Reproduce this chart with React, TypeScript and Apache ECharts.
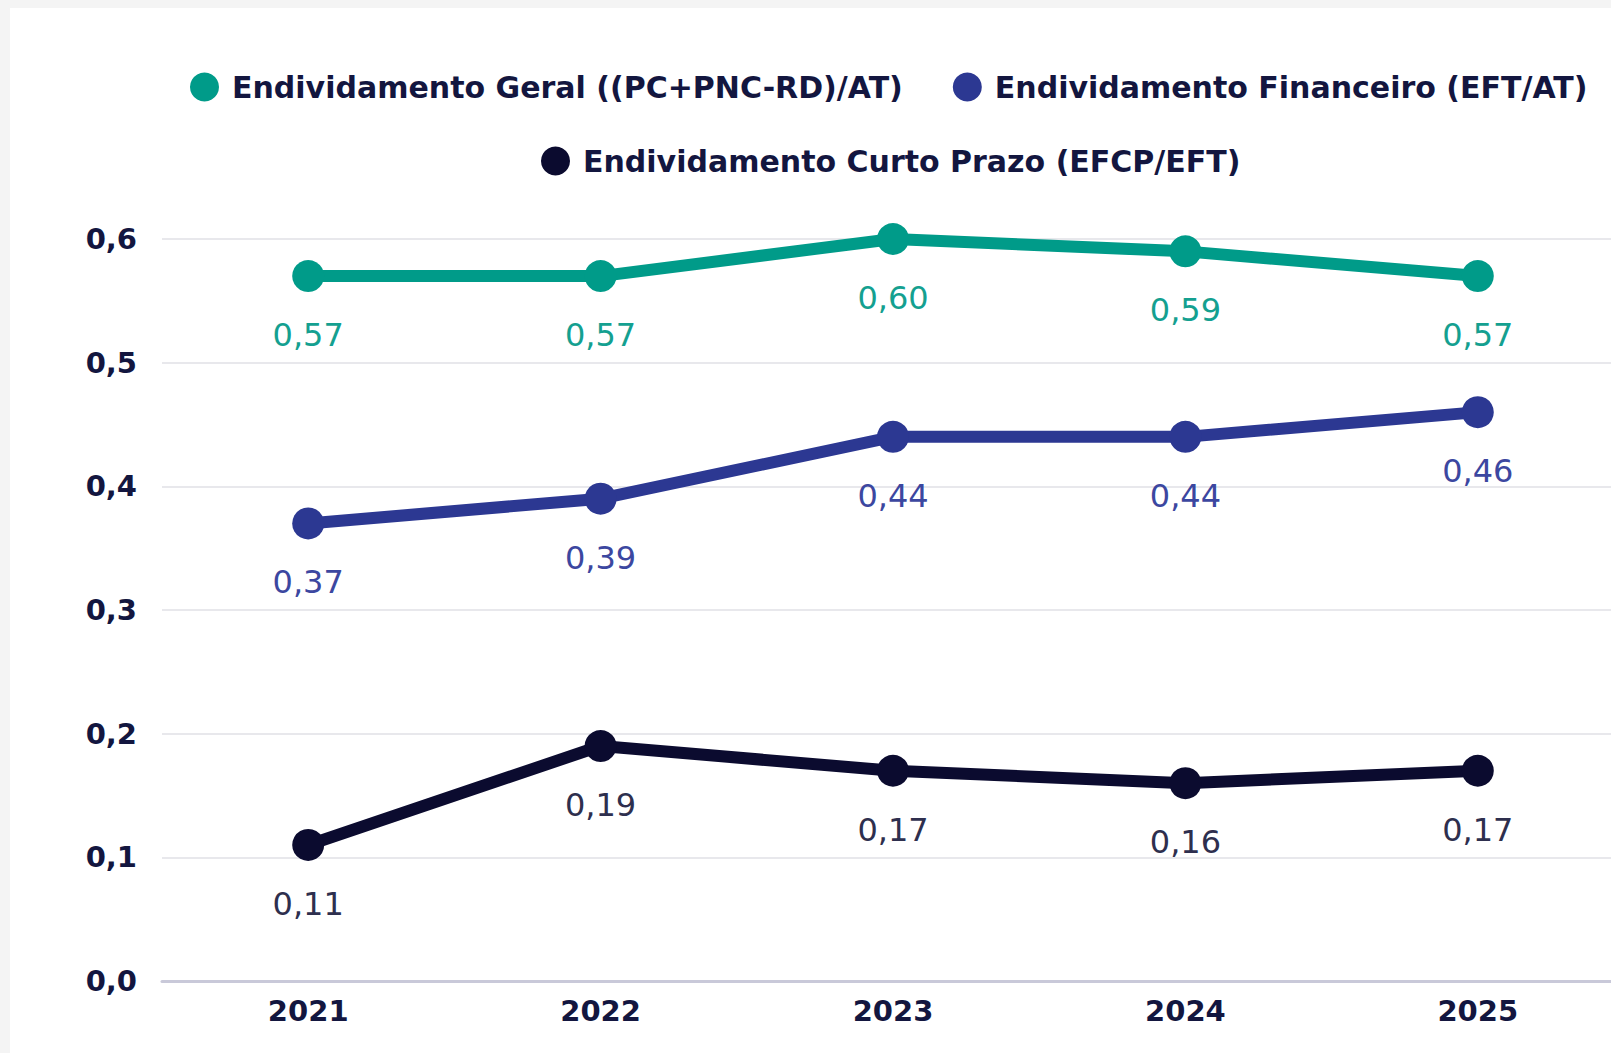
import React, { useEffect, useRef } from "react";
import * as echarts from "echarts";

const categories = ["2021", "2022", "2023", "2024", "2025"];
const seriesNames = [
  "Endividamento Geral ((PC+PNC-RD)/AT)",
  "Endividamento Financeiro (EFT/AT)",
  "Endividamento Curto Prazo (EFCP/EFT)",
];
const geral = [0.57, 0.57, 0.6, 0.59, 0.57];
const financeiro = [0.37, 0.39, 0.44, 0.44, 0.46];
const curtoPrazo = [0.11, 0.19, 0.17, 0.16, 0.17];
const colors = ["#009b89", "#2c3892", "#0b0b2f"];
const labelColors = ["#14a090", "#3c47a0", "#2e2f4e"];

const FONT = "'DejaVu Sans', Verdana, sans-serif";
const TEXT = "#13163f";

export default function App() {
  const ref = useRef<HTMLDivElement>(null);
  useEffect(() => {
    document.body.style.margin = "0";
    document.body.style.overflow = "hidden";
    const chart = echarts.init(ref.current!, null, { renderer: "svg" });
    const values = [geral, financeiro, curtoPrazo];
    const legendText = {
      fontFamily: FONT,
      fontWeight: "bold" as const,
      fontSize: 30,
      color: TEXT,
      padding: [0, 0, 0, 8],
    };
    chart.setOption({
      animation: false,
      backgroundColor: "#ffffff",
      textStyle: { fontFamily: FONT },
      legend: [
        {
          data: [seriesNames[0], seriesNames[1]],
          left: 175,
          top: 59,
          icon: "circle",
          itemWidth: 29,
          itemHeight: 29,
          itemGap: 50,
          textStyle: legendText,
        },
        {
          data: [seriesNames[2]],
          left: 526,
          top: 133,
          icon: "circle",
          itemWidth: 29,
          itemHeight: 29,
          itemGap: 50,
          textStyle: legendText,
        },
      ],
      grid: {
        left: 152,
        top: 231,
        bottom: 72,
        width: 1462,
        containLabel: false,
        outerBoundsMode: "none",
      },
      xAxis: {
        type: "category",
        data: categories,
        boundaryGap: true,
        axisLine: { lineStyle: { color: "#c9c9d9", width: 3 } },
        axisTick: { show: false },
        axisLabel: {
          fontFamily: FONT,
          fontWeight: "bold",
          fontSize: 29,
          color: TEXT,
          margin: 15,
        },
      },
      yAxis: {
        type: "value",
        min: 0,
        max: 0.6,
        interval: 0.1,
        axisLine: { show: false },
        axisTick: { show: false },
        splitLine: { lineStyle: { color: "#e8e8ec", width: 2 } },
        axisLabel: {
          fontFamily: FONT,
          fontWeight: "bold",
          fontSize: 29,
          color: TEXT,
          margin: 25,
          formatter: (v: number) => v.toFixed(1).replace(".", ","),
        },
      },
      series: seriesNames.map((name, i) => ({
        name,
        type: "line",
        data: values[i],
        color: colors[i],
        symbol: "circle",
        symbolSize: 32,
        lineStyle: { width: 12, color: colors[i] },
        itemStyle: { color: colors[i] },
        label: {
          show: true,
          position: "bottom",
          distance: 27,
          fontFamily: FONT,
          fontSize: 32,
          color: labelColors[i],
          formatter: (p: any) => Number(p.value).toFixed(2).replace(".", ","),
        },
      })),
    });
    return () => chart.dispose();
  }, []);
  return (
    <div style={{ width: 1611, height: 1053, background: "#f4f4f4", paddingTop: 8, paddingLeft: 10, boxSizing: "border-box", overflow: "hidden" }}>
      <div ref={ref} style={{ width: 1601, height: 1045 }} />
    </div>
  );
}
